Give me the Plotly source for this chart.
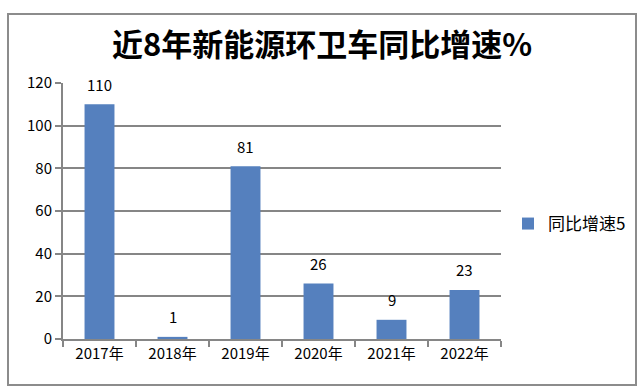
import plotly.graph_objects as go

categories = ["2017年", "2018年", "2019年", "2020年", "2021年", "2022年"]
values = [110, 1, 81, 26, 9, 23]
series_name = "同比增速5"
title_text = "近8年新能源环卫车同比增速%"

FONT = "Noto Sans CJK SC"
fig = go.Figure()
fig.add_trace(go.Bar(
    x=categories, y=values, name=series_name,
    marker=dict(color="#5580BE", line=dict(width=0)),
    width=0.41,
))
for c, v in zip(categories, values):
    fig.add_annotation(x=c, y=v, text=str(v), showarrow=False, yanchor="middle",
                       yshift=20, font=dict(family=FONT, size=15, color="#000000"))
fig.update_layout(
    width=644, height=392,
    margin=dict(l=63, r=143, t=83, b=53, autoexpand=False),
    paper_bgcolor="white", plot_bgcolor="white",
    title=dict(text="<b>" + title_text + "</b>", x=0.5, xanchor="center", xref="container",
               y=1 - 45 / 392, yanchor="middle", yref="container",
               font=dict(family=FONT, size=31, color="#000000")),
    showlegend=True,
    legend=dict(x=(508 - 63) / 438, xanchor="left", y=(339 - 224) / 256, yanchor="middle",
                font=dict(family=FONT, size=17, color="#000000"),
                bgcolor="rgba(0,0,0,0)", itemwidth=30),
    font=dict(family=FONT, size=15, color="#000000"),
    shapes=[dict(type="rect", xref="paper", yref="paper",
                 x0=-55 / 438, x1=(636 - 63) / 438,
                 y0=-(385 - 339) / 256, y1=(339 - 14) / 256,
                 line=dict(color="#8c8c8c", width=2), fillcolor="rgba(0,0,0,0)",
                 layer="below")],
)
fig.update_yaxes(range=[0, 120], dtick=20, showgrid=True, gridcolor="#868686", gridwidth=2,
                 showline=True, linecolor="#868686", linewidth=2,
                 ticks="outside", ticklen=6, tickcolor="#868686", tickwidth=2,
                 tickfont=dict(family=FONT, size=15, color="#000000"), zeroline=False)
fig.update_xaxes(showline=True, linecolor="#868686", linewidth=2,
                 ticks="outside", ticklen=6, tickcolor="#868686", tickwidth=2,
                 tickson="boundaries",
                 tickfont=dict(family=FONT, size=15, color="#000000"), showgrid=False)
fig.write_html("out.html", config={"displayModeBar": False},
               post_script="document.body.style.margin='0';")
